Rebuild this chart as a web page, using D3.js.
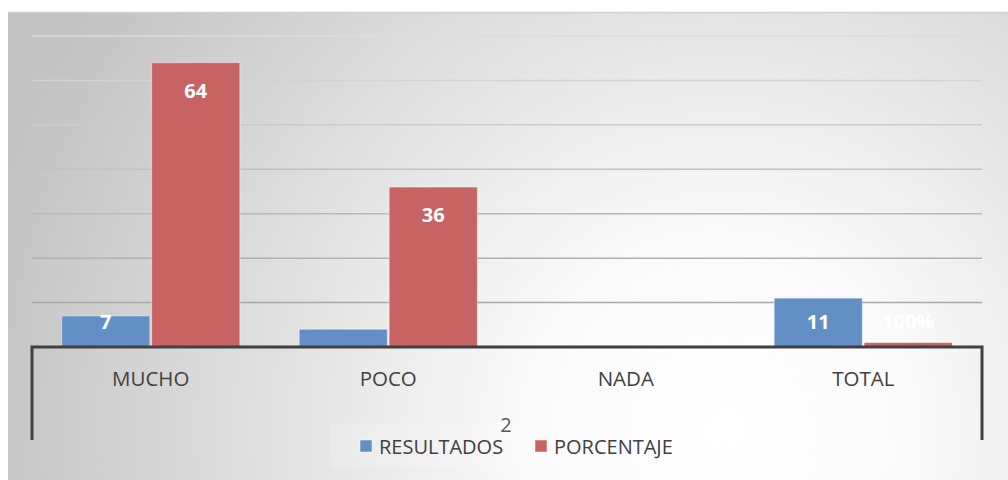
<!DOCTYPE html>
<html><head><meta charset="utf-8">
<script src="https://cdn.jsdelivr.net/npm/d3@7"></script>
<style>body{margin:0;background:#fff}svg{display:block}</style>
</head><body><svg id="c" width="1008" height="480"></svg>
<script>
const categories = ["MUCHO", "POCO", "NADA", "TOTAL"];
const seriesNames = ["RESULTADOS", "PORCENTAJE"];
const resultados = [7, 4, 0, 11];
const porcentaje = [64, 36, 0, 1];
const resultadosLabels = ["7", "", "", "11"];
const porcentajeLabels = ["64", "36", "", "100%"];
const yTicks = [0, 10, 20, 30, 40, 50, 60, 70];
const axisTitle = "2";

(function () {
const svg = d3.select("#c");
const defs = svg.append("defs");
const rg = defs.append("radialGradient").attr("id","bg").attr("gradientUnits","userSpaceOnUse")
  .attr("cx",720).attr("cy",430).attr("r",760);
rg.append("stop").attr("offset","0").attr("stop-color","#ffffff");
rg.append("stop").attr("offset","0.25").attr("stop-color","#fafafa");
rg.append("stop").attr("offset","1").attr("stop-color","#c2c2c2");

svg.append("rect").attr("x",8).attr("y",12).attr("width",1000).attr("height",468).attr("fill","url(#bg)");
svg.append("line").attr("x1",8).attr("x2",1008).attr("y1",12.5).attr("y2",12.5).attr("stroke","#d0d0d0").attr("stroke-width",1.5);

const pl = 32, pr = 982, pt = 36, base = 347;
const x = d3.scaleBand().domain(categories).range([pl, pr]).paddingInner(0.25).paddingOuter(0.125);
const x1 = d3.scaleBand().domain(seriesNames).range([0, x.bandwidth()]).paddingInner(0.02);
const y = d3.scaleLinear().domain([0, 70]).range([base, pt]);

const gridColor = d3.scaleLinear().domain([70, 10]).range(["#dcdcdc", "#a8a8a8"]);
svg.append("g").selectAll("line").data(yTicks.filter(d => d > 0)).join("line")
  .attr("x1", pl).attr("x2", pr).attr("y1", d => y(d)).attr("y2", d => y(d))
  .attr("stroke", d => gridColor(d)).attr("stroke-width", 1.5);

const colors = {RESULTADOS: "#6390c4", PORCENTAJE: "#c86363"};
const data = [];
categories.forEach((c, i) => {
  data.push({c, s: "RESULTADOS", v: resultados[i], l: resultadosLabels[i]});
  data.push({c, s: "PORCENTAJE", v: porcentaje[i], l: porcentajeLabels[i]});
});
svg.append("g").selectAll("rect").data(data.filter(d => d.v > 0)).join("rect")
  .attr("x", d => x(d.c) + x1(d.s)).attr("width", x1.bandwidth())
  .attr("y", d => y(d.v)).attr("height", d => base - y(d.v))
  .attr("fill", d => colors[d.s]).attr("stroke", "rgba(255,255,255,0.45)").attr("stroke-width", 1);

svg.append("g").selectAll("text").data(data.filter(d => d.l)).join("text")
  .attr("x", d => x(d.c) + x1(d.s) + x1.bandwidth() / 2)
  .attr("y", d => Math.min(y(d.v) + 35, base - 18))
  .attr("text-anchor", "middle").attr("fill", "#fff").attr("font-weight", "bold")
  .attr("font-family", "Open Sans, sans-serif").attr("font-size", 20).text(d => d.l);

const ax = svg.append("g").attr("stroke", "#404040").attr("stroke-width", 3).attr("fill", "none");
ax.append("path").attr("d", `M${pl},440V${base}H${pr}V440`);

svg.append("g").selectAll("text").data(categories).join("text")
  .attr("x", d => x(d) + x.bandwidth() / 2).attr("y", 386)
  .attr("text-anchor", "middle").attr("fill", "#404040")
  .attr("font-family", "Open Sans, sans-serif").attr("font-size", 20.5).text(d => d);

svg.append("rect").attr("x", 330).attr("y", 423).attr("width", 370).attr("height", 45).attr("fill", "rgba(255,255,255,0.15)");
svg.append("text").attr("x", 506).attr("y", 432).attr("text-anchor", "middle").attr("fill", "#595959")
  .attr("font-family", "Open Sans, sans-serif").attr("font-size", 20).text(axisTitle);
const legX = [360, 535];
const lg = svg.append("g").selectAll("g").data(seriesNames).join("g")
  .attr("transform", (d, i) => `translate(${legX[i]},440)`);
lg.append("rect").attr("width", 12).attr("height", 12).attr("fill", d => colors[d]).attr("stroke","rgba(255,255,255,0.5)");
lg.append("text").attr("x", 19).attr("y", 14).attr("fill", "#404040")
  .attr("font-family", "Open Sans, sans-serif").attr("font-size", 20).text(d => d);
})();
</script></body></html>
